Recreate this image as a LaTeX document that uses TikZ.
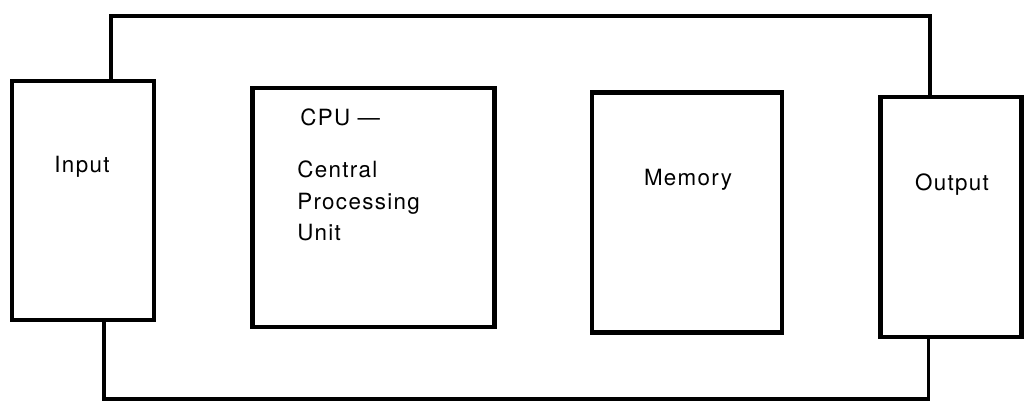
\documentclass[tikz,border=0pt]{standalone}
\usepackage{fontspec}
\setmainfont{TeX Gyre Heros}[LetterSpace=6]
\usetikzlibrary{positioning}

\begin{document}
\begin{tikzpicture}[
    x=0.025cm, y=-0.025cm,
    unit/.style={draw, line width=3pt, inner sep=0pt},
    bus/.style={line width=2.8pt},
    txt/.style={inner sep=0pt, font=\fontsize{15.9}{22.4}\selectfont}
]
\useasboundingbox (0,0) rectangle (1026,407);

% --- Bloques ---
\node[unit, minimum width=3.55cm, minimum height=5.975cm] (input) at (83,200.5) {};
\node[unit, minimum width=6.05cm, minimum height=5.975cm] (cpu) at (373.5,207.5) {};
\node[unit, minimum width=4.75cm, minimum height=6cm] (memory) at (687,212.5) {};
\node[unit, minimum width=3.525cm, minimum height=6cm] (output) at (951,217) {};

% --- Textos ---
\node[txt, anchor=base] (input-txt) at (82,172.7) {Input};
\node[txt, anchor=base west] (cpu-txt) at (300,126) {CPU ---};
\node[txt, anchor=west, align=left] (cpu-name) at (297,201) {Central\\Processing\\Unit};
\node[txt, anchor=base] (memory-txt) at (688,185) {Memory};
\node[txt, anchor=base] (output-txt) at (952,190) {Output};

% --- Bus superior ---
\coordinate (bus-tl) at (111,16);
\coordinate (bus-tr) at (930,16);
\draw[bus] (input.north -| bus-tl) -- (bus-tl) -- (bus-tr) -- (output.north -| bus-tr);

% --- Bus inferior ---
\coordinate (bus-bl) at (104,399);
\coordinate (bus-br) at (928.5,399);
\draw[bus] (input.south -| bus-bl) -- (bus-bl) -- (bus-br) -- (output.south -| bus-br);

\end{tikzpicture}
\end{document}
